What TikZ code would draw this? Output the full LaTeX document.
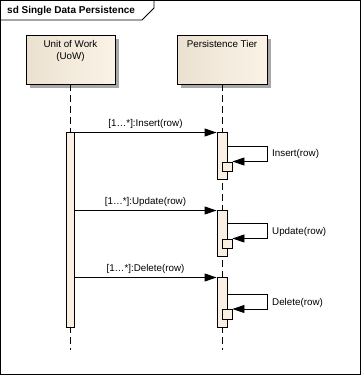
\documentclass[tikz,border=0pt]{standalone}
\usepackage{fontspec}
\setmainfont{Liberation Sans}
\usetikzlibrary{arrows.meta,shadows}
\definecolor{fillL}{HTML}{EBE1D1}
\definecolor{fillR}{HTML}{FAF3E6}
\definecolor{actfill}{HTML}{F9EFE2}
\definecolor{shadowc}{HTML}{A8A8A8}
\begin{document}
\begin{tikzpicture}[x=1pt,y=-1pt,
  every node/.style={font=\fontsize{9.8}{12}\selectfont},
  lifebox/.style={draw,line width=0.9pt,left color=fillL,right color=fillR,
    minimum height=49pt,inner sep=0pt,
    drop shadow={shadow xshift=4pt,shadow yshift=-4pt,fill=shadowc,opacity=1}},
  actbar/.style={draw,line width=0.9pt,fill=actfill,inner sep=0pt},
  lifeline/.style={line width=0.9pt,dash pattern=on 7pt off 4pt},
  msg/.style={line width=0.9pt,-{Triangle[length=12pt,width=8pt]}},
  lbl/.style={inner sep=0pt}]
\useasboundingbox (0,0) rectangle (361,375);
% frame
\draw[line width=0.9pt] (0.5,0.5) rectangle (360.5,374.5);
\draw[line width=0.9pt] (0.5,20) -- (142,20) -- (154,8) -- (154,0.5);
\node[lbl,anchor=west,font=\fontsize{10}{12}\selectfont\bfseries] (title) at (7,10.5) {sd Single Data Persistence};
% lifeline heads
\node[lifebox,minimum width=89pt] (uow) at (70.5,59.5) {};
\node[lifebox,minimum width=90pt] (pt) at (222,59.5) {};
\node[lbl,align=center,anchor=north] (uowt) at (70.5,40) {Unit of Work\\(UoW)};
\node[lbl,anchor=north] (ptt) at (222,40) {Persistence Tier};
% lifelines
\coordinate (uowend) at (70,350);
\coordinate (ptend) at (222,350);
\draw[lifeline] (uow.south -| uowend) -- (uowend);
\draw[lifeline] (pt.south -| ptend) -- (ptend);
% activations
\node[actbar,minimum width=8pt,minimum height=195pt] (a0) at (70,229.5) {};
\node[actbar,minimum width=10pt,minimum height=47pt] (a1) at (222,155.5) {};
\node[actbar,minimum width=10pt,minimum height=46pt] (a2) at (222,233) {};
\node[actbar,minimum width=10pt,minimum height=50pt] (a3) at (222,302) {};
\node[actbar,minimum width=10pt,minimum height=9pt] (n1) at (227,166.5) {};
\node[actbar,minimum width=10pt,minimum height=9pt] (n2) at (227,243.5) {};
\node[actbar,minimum width=10pt,minimum height=10pt] (n3) at (227,314) {};
% messages
\coordinate (m1) at (0,132.5);
\coordinate (m2) at (0,210.5);
\coordinate (m3) at (0,277.5);
\draw[msg] (a0.east |- m1) -- node[lbl,above=4pt] (l1) {[1…*]:Insert(row)} (a1.west |- m1);
\draw[msg] (a0.east |- m2) -- node[lbl,above=4pt] (l2) {[1…*]:Update(row)} (a2.west |- m2);
\draw[msg] (a0.east |- m3) -- node[lbl,above=4pt] (l3) {[1…*]:Delete(row)} (a3.west |- m3);
% self messages
\coordinate (s1) at (267,146);
\coordinate (s2) at (267,223.5);
\coordinate (s3) at (267,294);
\draw[msg] (a1.east |- s1) -- (s1) -- (267,161.5) -- (n1.east |- 0,161.5);
\draw[msg] (a2.east |- s2) -- (s2) -- (267,238.5) -- (n2.east |- 0,238.5);
\draw[msg] (a3.east |- s3) -- (s3) -- (267,309) -- (n3.east |- 0,309);
\node[lbl,anchor=west] (sl1) at (272,154) {Insert(row)};
\node[lbl,anchor=west] (sl2) at (272,231.5) {Update(row)};
\node[lbl,anchor=west] (sl3) at (272,302.5) {Delete(row)};
\end{tikzpicture}
\end{document}
